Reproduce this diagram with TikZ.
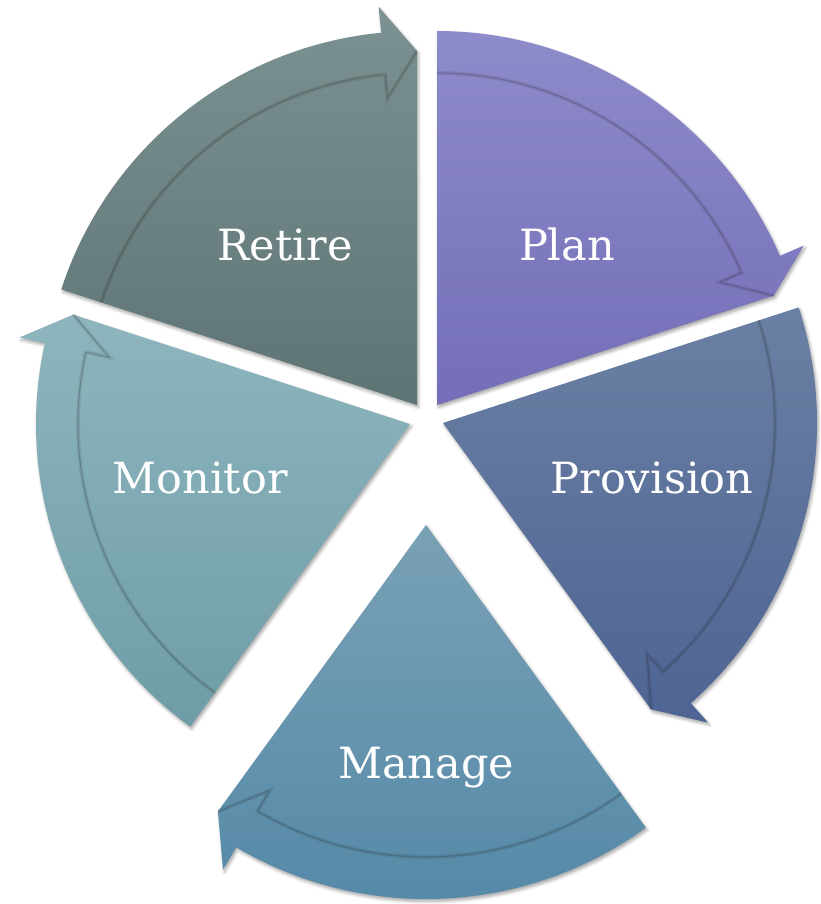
\documentclass[tikz,border=0pt]{standalone}
\usepackage{fontspec}
\setmainfont{DejaVu Serif}
\usetikzlibrary{shadows.blur}

\definecolor{PlanTop}{HTML}{8E8BCB}
\definecolor{PlanBot}{HTML}{736EB7}
\definecolor{ProvTop}{HTML}{6A80A3}
\definecolor{ProvBot}{HTML}{4E6493}
\definecolor{ManTop}{HTML}{79A1B5}
\definecolor{ManBot}{HTML}{5388A7}
\definecolor{MonTop}{HTML}{8EB5BE}
\definecolor{MonBot}{HTML}{6E9DA7}
\definecolor{RetTop}{HTML}{7C9191}
\definecolor{RetBot}{HTML}{5E7374}

\begin{document}
\begin{tikzpicture}[x=1pt, y=1pt,
        segment/.style={blur shadow={shadow xshift=1.5pt, shadow yshift=-2.5pt,
            shadow blur radius=3pt, shadow opacity=35}},
        bandedge/.style={draw=black!80, line width=1.1pt, opacity=0.26,
            preaction={draw=black, line width=4pt, opacity=0.08}},
        every node/.append style={font=\fontsize{43}{52}\selectfont}]
      \tikzstyle{phase} = [text=white, anchor=base]
      \useasboundingbox (0,0) rectangle (821,-904);
      % Plan
      \begin{scope}[shift={(437,-405)}]
        \path[segment, top color=PlanTop, bottom color=PlanBot] (0,0) -- (90:374)
          arc[start angle=90, end angle=23.5, radius=374] -- (23.5:400) -- (18:354) -- cycle;
        \draw[bandedge] (90:332) arc[start angle=90, end angle=23.5, radius=332] -- (23.5:308) -- (18:354);
      \end{scope}
      % Provision
      \begin{scope}[shift={(443,-423)}]
        \path[segment, top color=ProvTop, bottom color=ProvBot] (0,0) -- (18:374)
          arc[start angle=18, end angle=-48.5, radius=374] -- (-48.5:400) -- (-54:354) -- cycle;
        \draw[bandedge] (18:332) arc[start angle=18, end angle=-48.5, radius=332] -- (-48.5:308) -- (-54:354);
      \end{scope}
      % Manage
      \begin{scope}[shift={(426,-525)}]
        \path[segment, top color=ManTop, bottom color=ManBot] (0,0) -- (-54:374)
          arc[start angle=-54, end angle=-120.5, radius=374] -- (-120.5:400) -- (-126:354) -- cycle;
        \draw[bandedge] (-54:332) arc[start angle=-54, end angle=-120.5, radius=332] -- (-120.5:308) -- (-126:354);
      \end{scope}
      % Monitor
      \begin{scope}[shift={(410,-424)}]
        \path[segment, top color=MonTop, bottom color=MonBot] (0,0) -- (234:374)
          arc[start angle=234, end angle=167.5, radius=374] -- (167.5:400) -- (162:354) -- cycle;
        \draw[bandedge] (234:332) arc[start angle=234, end angle=167.5, radius=332] -- (167.5:308) -- (162:354);
      \end{scope}
      % Retire
      \begin{scope}[shift={(417,-405)}]
        \path[segment, top color=RetTop, bottom color=RetBot] (0,0) -- (162:374)
          arc[start angle=162, end angle=95.5, radius=374] -- (95.5:400) -- (90:354) -- cycle;
        \draw[bandedge] (162:332) arc[start angle=162, end angle=95.5, radius=332] -- (95.5:308) -- (90:354);
      \end{scope}

      \node (Plan) [phase] at (567,-260) {Plan};
      \node (Provision) [phase] at (652,-493) {Provision};
      \node (Manage) [phase] at (426,-778) {Manage};
      \node (Monitor) [phase] at (200,-493) {Monitor};
      \node (Retire) [phase] at (285,-260) {Retire};
    \end{tikzpicture}
\end{document}
